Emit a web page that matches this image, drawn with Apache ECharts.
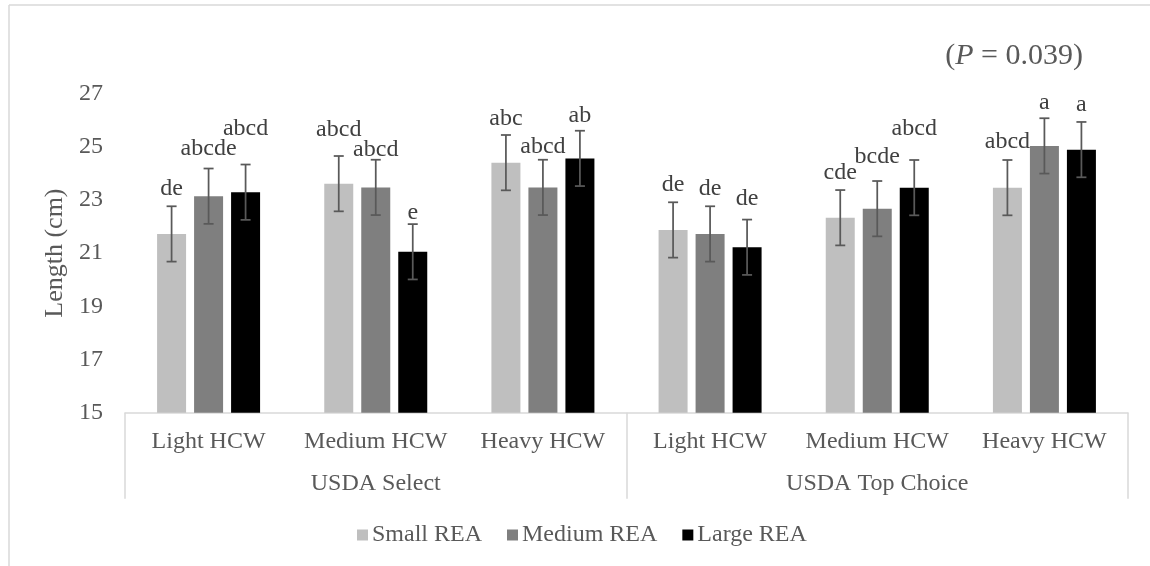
<!DOCTYPE html>
<html>
<head>
<meta charset="utf-8">
<script src="https://cdn.jsdelivr.net/npm/echarts@6/dist/echarts.min.js"></script>
<style>html,body{margin:0;padding:0;background:#fff}#c{width:1150px;height:566px}</style>
</head>
<body>
<div id="c"></div>
<script>
var categories = ['Light HCW', 'Medium HCW', 'Heavy HCW', 'Light HCW', 'Medium HCW', 'Heavy HCW'];
var groups = ['USDA Select', 'USDA Top Choice'];
var seriesNames = ['Small REA', 'Medium REA', 'Large REA'];
var smallREA = [21.72, 23.61, 24.40, 21.87, 22.33, 23.46];
var mediumREA = [23.14, 23.47, 23.47, 21.72, 22.67, 25.03];
var largeREA = [23.29, 21.05, 24.56, 21.22, 23.46, 24.89];
var smallSE = [1.04, 1.04, 1.04, 1.04, 1.04, 1.04];
var mediumSE = [1.04, 1.04, 1.04, 1.04, 1.04, 1.04];
var largeSE = [1.04, 1.04, 1.04, 1.04, 1.04, 1.04];
var smallLetters = ['de', 'abcd', 'abc', 'de', 'cde', 'abcd'];
var mediumLetters = ['abcde', 'abcd', 'abcd', 'de', 'bcde', 'a'];
var largeLetters = ['abcd', 'e', 'ab', 'de', 'abcd', 'a'];
var yTicks = {min: 15, max: 27, interval: 2};
var pText = 'P = 0.039';

// styling (pixel gaps between error-bar cap and letter label)
var labelGaps = [[18, 26, 16, 18, 17, 18], [20, 10, 13, 18, 24, 16], [36, 11, 15, 21, 31, 17]];
var colors = ['#bfbfbf', '#7f7f7f', '#000000'];
var FONT = 'Liberation Serif';
var BAR_W = 29, BAR_GAP = 8;

var values = [smallREA, mediumREA, largeREA];
var ses = [smallSE, mediumSE, largeSE];
var letters = [smallLetters, mediumLetters, largeLetters];

var chart = echarts.init(document.getElementById('c'), null, {renderer: 'canvas'});

var series = [];
seriesNames.forEach(function (name, s) {
  series.push({
    name: name, type: 'bar', xAxisIndex: 0, yAxisIndex: 0,
    barWidth: BAR_W, barGap: (BAR_GAP / BAR_W * 100) + '%',
    itemStyle: {color: colors[s]},
    data: values[s]
  });
});
seriesNames.forEach(function (name, s) {
  series.push({
    name: name + ' err', type: 'custom', xAxisIndex: 0, yAxisIndex: 0, z: 5, clip: false,
    data: values[s].map(function (v, i) { return [i, v, ses[s][i]]; }),
    encode: {x: 0, y: 1},
    renderItem: function (params, api) {
      var i = api.value(0), v = api.value(1), e = api.value(2);
      var off = (s - 1) * (BAR_W + BAR_GAP);
      var top = api.coord([i, v + e]);
      var bot = api.coord([i, v - e]);
      var x = top[0] + off;
      var st = {stroke: '#595959', lineWidth: 1.75};
      return {
        type: 'group',
        children: [
          {type: 'line', shape: {x1: x, y1: top[1], x2: x, y2: bot[1]}, style: st},
          {type: 'line', shape: {x1: x - 5, y1: top[1], x2: x + 5, y2: top[1]}, style: st},
          {type: 'line', shape: {x1: x - 5, y1: bot[1], x2: x + 5, y2: bot[1]}, style: st},
          {type: 'text', style: {text: letters[s][i], x: x, y: top[1] - labelGaps[s][params.dataIndex],
            align: 'center', verticalAlign: 'middle', fontSize: 24, fontFamily: FONT, fill: '#404040'}}
        ]
      };
    }
  });
});

var option = {
  backgroundColor: '#ffffff',
  animation: false,
  textStyle: {fontFamily: FONT},
  title: {
    text: '({i|P} = 0.039)',
    right: 62, top: 36,
    textStyle: {fontFamily: FONT, fontSize: 30, fontWeight: 'normal', color: '#595959',
      rich: {i: {fontFamily: FONT, fontSize: 30, fontStyle: 'italic', color: '#595959'}}}
  },
  legend: {
    data: seriesNames,
    left: 352, top: 518,
    icon: 'rect', itemWidth: 11, itemHeight: 11, itemGap: 25,
    textStyle: {fontFamily: FONT, fontSize: 24, color: '#595959', padding: [0, 0, 0, -1]}
  },
  grid: {left: 125, right: 22, top: 93.5, bottom: 153.3, containLabel: false},
  xAxis: [
    {
      type: 'category', data: categories, position: 'bottom',
      axisLine: {show: true, lineStyle: {color: '#d9d9d9', width: 1.5}},
      axisTick: {show: false},
      axisLabel: {fontFamily: FONT, fontSize: 24, color: '#595959', margin: 17, interval: 0}
    },
    {
      type: 'category', data: groups, position: 'bottom',
      axisLine: {show: false},
      axisTick: {show: true, length: 86, lineStyle: {color: '#d9d9d9', width: 1.5}},
      axisLabel: {fontFamily: FONT, fontSize: 24, color: '#595959', margin: 59, interval: 0}
    }
  ],
  yAxis: {
    type: 'value', min: yTicks.min, max: yTicks.max, interval: yTicks.interval,
    name: 'Length (cm)', nameLocation: 'middle', nameGap: 54,
    nameTextStyle: {fontFamily: FONT, fontSize: 26, color: '#595959'},
    axisLine: {show: false}, axisTick: {show: false}, splitLine: {show: false},
    axisLabel: {fontFamily: FONT, fontSize: 24, color: '#595959', margin: 22}
  },
  graphic: [
    {type: 'line', shape: {x1: 9, y1: 5, x2: 1150, y2: 5}, style: {stroke: '#d9d9d9', lineWidth: 1.5}},
    {type: 'line', shape: {x1: 9, y1: 5, x2: 9, y2: 566}, style: {stroke: '#d9d9d9', lineWidth: 1.5}}
  ],
  series: series
};
chart.setOption(option);
</script>
</body>
</html>
